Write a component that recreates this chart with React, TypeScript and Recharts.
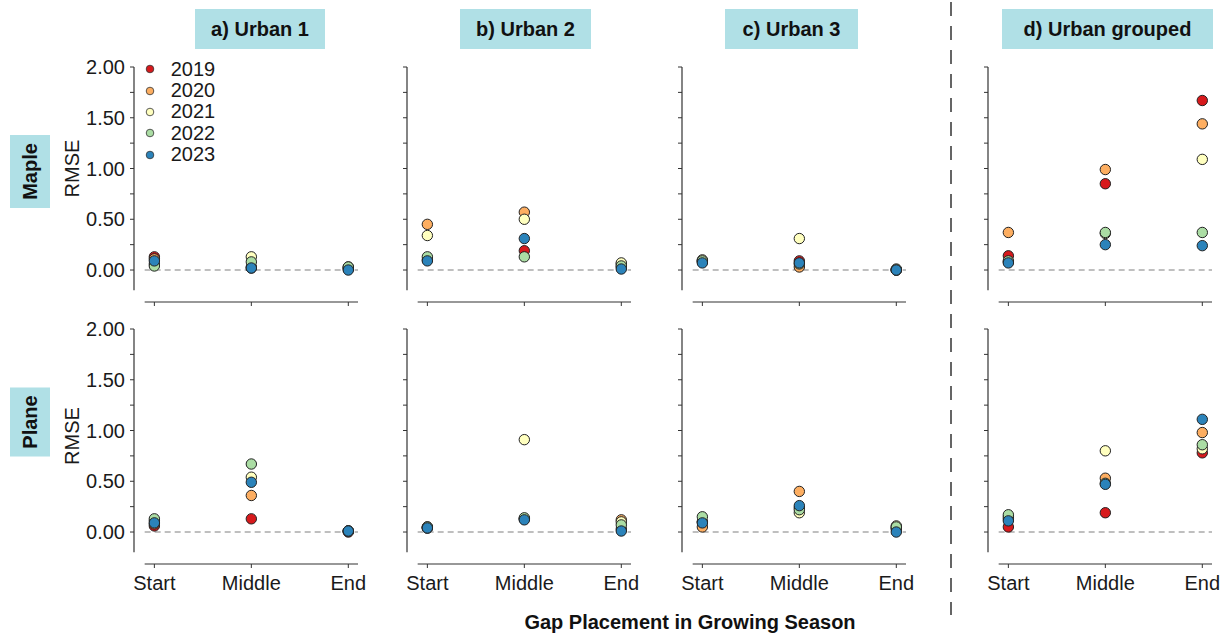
import { ScatterChart, Scatter, XAxis, YAxis, ReferenceLine, Legend } from "recharts";

const positions = ["Start", "Middle", "End"];
const years = ["2019", "2020", "2021", "2022", "2023"];
const yearColors = ["#d7191c", "#fdae61", "#ffffbf", "#abdda4", "#2b83ba"];
const sites = ["a) Urban 1", "b) Urban 2", "c) Urban 3", "d) Urban grouped"];
const species = ["Maple", "Plane"];
const yTicks = [0, 0.25, 0.5, 0.75, 1, 1.25, 1.5, 1.75, 2];

// RMSE, one row per year (2019..2023), columns = Start / Middle / End
const mapleUrban1 = [
  [0.13, 0.02, 0.01],
  [0.11, 0.03, 0.02],
  [0.06, 0.13, 0.03],
  [0.04, 0.08, 0.03],
  [0.09, 0.02, 0.0],
];
const mapleUrban2 = [
  [0.1, 0.19, 0.03],
  [0.45, 0.57, 0.06],
  [0.34, 0.5, 0.07],
  [0.13, 0.13, 0.04],
  [0.09, 0.31, 0.01],
];
const mapleUrban3 = [
  [0.09, 0.09, 0.0],
  [0.08, 0.03, 0.0],
  [0.1, 0.31, 0.01],
  [0.09, 0.06, 0.0],
  [0.07, 0.07, 0.0],
];
const mapleGrouped = [
  [0.14, 0.85, 1.67],
  [0.37, 0.99, 1.44],
  [0.08, 0.36, 1.09],
  [0.09, 0.37, 0.37],
  [0.07, 0.25, 0.24],
];
const planeUrban1 = [
  [0.06, 0.13, 0.0],
  [0.08, 0.36, 0.01],
  [0.11, 0.54, 0.01],
  [0.13, 0.67, 0.01],
  [0.09, 0.49, 0.01],
];
const planeUrban2 = [
  [0.04, 0.13, 0.03],
  [0.05, 0.13, 0.12],
  [0.04, 0.91, 0.1],
  [0.05, 0.14, 0.07],
  [0.04, 0.12, 0.01],
];
const planeUrban3 = [
  [0.1, 0.24, 0.03],
  [0.05, 0.4, 0.04],
  [0.1, 0.19, 0.06],
  [0.15, 0.22, 0.05],
  [0.09, 0.26, 0.0],
];
const planeGrouped = [
  [0.05, 0.19, 0.78],
  [0.13, 0.53, 0.98],
  [0.15, 0.8, 0.82],
  [0.17, 0.48, 0.86],
  [0.11, 0.47, 1.11],
];

const mapleSeries = [mapleUrban1, mapleUrban2, mapleUrban3, mapleGrouped];
const planeSeries = [planeUrban1, planeUrban2, planeUrban3, planeGrouped];

// layout (px, page coords)
const axisXs = [134, 407, 682, 988];
const rowTops = [67, 329];
const AXIS_W = 60;
const PLOT_W = 224;
const PLOT_H = 235;
const RIGHT_PAD = 24;
const FONT = "'Liberation Sans', Arial, Helvetica, sans-serif";

const stripBoxes = [
  { x: 195, w: 130 },
  { x: 460, w: 131 },
  { x: 725, w: 133 },
  { x: 1002, w: 211 },
];
const rowStrips = [
  { cy: 171.5, h: 73 },
  { cy: 422, h: 69 },
];
const rmseY = [168.5, 436];

function YearLegend() {
  return (
    <div style={{ fontFamily: FONT, fontSize: 20, color: "#1a1a1a" }}>
      {years.map((y, i) => (
        <div key={y} style={{ display: "flex", alignItems: "center", height: 21.4 }}>
          <svg width={10} height={10} style={{ marginRight: 15.7 }}>
            <circle cx={5} cy={5} r={3.8} fill={yearColors[i]} stroke="#333" strokeWidth={0.8} />
          </svg>
          <span style={{ lineHeight: "21.4px" }}>{y}</span>
        </div>
      ))}
    </div>
  );
}

type PanelProps = {
  values: number[][];
  left: number;
  top: number;
  showYLabels: boolean;
  showXLabels: boolean;
  showLegend: boolean;
};

function Panel({ values, left, top, showYLabels, showXLabels, showLegend }: PanelProps) {
  const xH = showXLabels ? 40 : 10;
  return (
    <div style={{ position: "absolute", left: left - AXIS_W, top: top - 10 }}>
      <ScatterChart
        width={AXIS_W + PLOT_W + RIGHT_PAD}
        height={10 + PLOT_H + xH}
        margin={{ top: 10, right: RIGHT_PAD, bottom: 0, left: 0 }}
      >
        <XAxis
          type="number"
          dataKey="x"
          domain={[0.79, 3.1]}
          ticks={[1, 2, 3]}
          interval={0}
          allowDataOverflow
          axisLine={false}
          tickLine={{ stroke: "#333" }}
          tickSize={4}
          tickMargin={8}
          height={xH}
          tick={{ fontSize: 20, fill: "#1a1a1a", fontFamily: FONT }}
          tickFormatter={(v: number) => (showXLabels ? positions[v - 1] : "")}
        />
        <YAxis
          type="number"
          dataKey="y"
          domain={[-0.315, 2]}
          ticks={yTicks}
          interval={0}
          allowDataOverflow
          axisLine={false}
          tickLine={{ stroke: "#333" }}
          tickSize={4}
          tickMargin={5}
          width={AXIS_W}
          tick={{ fontSize: 20, fill: "#1a1a1a", fontFamily: FONT }}
          tickFormatter={(v: number) =>
            showYLabels && Math.abs((v * 2) % 1) < 1e-9 ? v.toFixed(2) : ""
          }
        />
        <ReferenceLine
          segment={[{ x: 0.79, y: -0.2 }, { x: 0.79, y: 2 }]}
          stroke="#333"
          strokeWidth={1.2}
          ifOverflow="visible"
        />
        <ReferenceLine
          segment={[{ x: 0.9, y: -0.315 }, { x: 3.1, y: -0.315 }]}
          stroke="#333"
          strokeWidth={1.2}
          ifOverflow="visible"
        />
        <ReferenceLine
          segment={[{ x: 0.9, y: 0 }, { x: 3.1, y: 0 }]}
          stroke="#aaaaaa"
          strokeWidth={1.6}
          strokeDasharray="6 4"
          ifOverflow="visible"
        />
        {values.map((row, i) => (
          <Scatter
            key={years[i]}
            name={years[i]}
            data={row.map((y, j) => ({ x: j + 1, y }))}
            fill={yearColors[i]}
            isAnimationActive={false}
            shape={(p: any) => (
              <circle cx={p.cx} cy={p.cy} r={5.2} fill={yearColors[i]} stroke="#222" strokeWidth={1} />
            )}
          />
        ))}
        {showLegend && (
          <Legend
            layout="vertical"
            align="center"
            verticalAlign="middle"
            wrapperStyle={{ left: 71, top: 1.6, width: 80 }}
            content={() => <YearLegend />}
          />
        )}
      </ScatterChart>
    </div>
  );
}

export default function App() {
  return (
    <div
      style={{
        position: "absolute",
        left: 0,
        top: 0,
        width: 1228,
        height: 635,
        background: "#fff",
        fontFamily: FONT,
        overflow: "hidden",
      }}
    >
      <svg width={1228} height={635} style={{ position: "absolute", left: 0, top: 0 }}>
        {stripBoxes.map((b, i) => (
          <g key={sites[i]}>
            <rect x={b.x} y={9} width={b.w} height={40} fill="#b0e0e6" />
            <text
              x={b.x + b.w / 2}
              y={29}
              textAnchor="middle"
              dominantBaseline="central"
              fontSize={20}
              fontWeight="bold"
              fill="#111"
            >
              {sites[i]}
            </text>
          </g>
        ))}
        {rowStrips.map((s, i) => (
          <g key={species[i]}>
            <rect x={10} y={s.cy - s.h / 2} width={40} height={s.h} fill="#b0e0e6" />
            <text
              x={30}
              y={s.cy}
              transform={`rotate(-90 30 ${s.cy})`}
              textAnchor="middle"
              dominantBaseline="central"
              fontSize={20}
              fontWeight="bold"
              fill="#111"
            >
              {species[i]}
            </text>
            <text
              x={72}
              y={rmseY[i]}
              transform={`rotate(-90 72 ${rmseY[i]})`}
              textAnchor="middle"
              dominantBaseline="central"
              fontSize={20}
              fill="#1a1a1a"
            >
              RMSE
            </text>
          </g>
        ))}
        <line x1={951} y1={2} x2={951} y2={615} stroke="#333" strokeWidth={1.5} strokeDasharray="14 10" />
        <text x={690} y={622} textAnchor="middle" dominantBaseline="central" fontSize={20} fontWeight="bold" fill="#111">
          Gap Placement in Growing Season
        </text>
      </svg>
      {[mapleSeries, planeSeries].map((row, r) =>
        row.map((values, c) => (
          <Panel
            key={`${r}-${c}`}
            values={values}
            left={axisXs[c]}
            top={rowTops[r]}
            showYLabels={c === 0}
            showXLabels={r === 1}
            showLegend={r === 0 && c === 0}
          />
        ))
      )}
    </div>
  );
}
